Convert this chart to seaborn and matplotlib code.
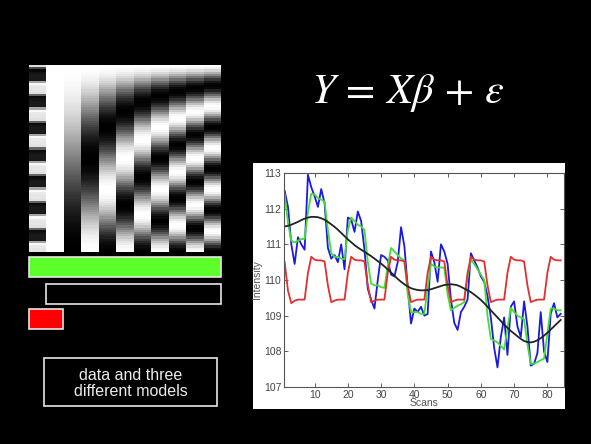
import matplotlib
matplotlib.use('Agg')
import matplotlib.pyplot as plt
from matplotlib.patches import Rectangle
import numpy as np
import pandas as pd
import seaborn as sns

# fMRI time series (84 scans) and the three model fits
scans = list(range(1, 85))
data_blue = [
    112.50, 112.05, 111.00, 110.45, 111.20, 111.00, 110.85, 112.95, 112.60, 112.35,
    112.05, 112.55, 112.15, 110.90, 110.60, 110.70, 110.50, 111.00, 110.30, 111.75,
    111.70, 111.35, 111.92, 111.65, 110.85, 109.75, 109.45, 109.20, 110.00, 110.70,
    110.65, 110.55, 110.15, 110.10, 110.50, 111.48, 110.95, 109.80, 108.78, 109.20,
    109.10, 109.25, 109.00, 109.05, 110.80, 110.50, 109.95, 111.00, 110.80, 110.45,
    109.45, 108.80, 108.60, 109.10, 109.25, 109.45, 110.75, 110.55, 110.35, 110.10,
    109.95, 109.55, 108.95, 108.10, 107.55, 108.40, 108.95, 107.90, 109.25, 109.40,
    108.70, 108.40, 109.40, 108.70, 107.60, 107.65, 107.95, 109.10, 108.00, 107.70,
    109.05, 109.35, 108.95, 109.05,
]
full_model = [
    112.40, 111.60, 111.10, 111.05, 111.10, 111.15, 111.15, 111.90, 112.42, 112.40,
    112.30, 112.25, 112.20, 111.40, 110.75, 110.65, 110.65, 110.60, 110.58, 111.40,
    111.75, 111.65, 111.55, 111.50, 111.40, 110.50, 109.90, 109.85, 109.85, 109.80,
    109.78, 110.40, 110.90, 110.80, 110.70, 110.60, 110.55, 109.60, 109.10, 109.10,
    109.10, 109.05, 109.05, 109.80, 110.45, 110.38, 110.35, 110.35, 110.35, 109.60,
    109.15, 109.22, 109.28, 109.32, 109.38, 110.10, 110.58, 110.45, 110.30, 110.15,
    110.00, 109.00, 108.35, 108.30, 108.25, 108.15, 108.05, 108.65, 109.22, 109.10,
    109.00, 108.95, 108.90, 108.20, 107.65, 107.65, 107.70, 107.75, 107.80, 108.50,
    109.20, 109.20, 109.15, 109.15,
]
boxcar_model = [
    110.50, 109.70, 109.35, 109.42, 109.45, 109.45, 109.45,
    110.20, 110.65, 110.57, 110.55, 110.55, 110.52, 109.85, 109.38, 109.42, 109.45, 109.45, 109.45,
    110.20, 110.65, 110.57, 110.55, 110.55, 110.52, 109.85, 109.38, 109.42, 109.45, 109.45, 109.45,
    110.20, 110.65, 110.57, 110.55, 110.55, 110.52, 109.85, 109.38, 109.42, 109.45, 109.45, 109.45,
    110.20, 110.65, 110.57, 110.55, 110.55, 110.52, 109.85, 109.38, 109.42, 109.45, 109.45, 109.45,
    110.20, 110.65, 110.57, 110.55, 110.55, 110.52, 109.85, 109.38, 109.42, 109.45, 109.45, 109.45,
    110.20, 110.65, 110.57, 110.55, 110.55, 110.52, 109.85, 109.38, 109.42, 109.45, 109.45, 109.45,
    110.20, 110.65, 110.57, 110.55, 110.55,
]
drift_model = [
    111.50, 111.52, 111.55, 111.59, 111.63, 111.68, 111.72, 111.75, 111.77, 111.77,
    111.76, 111.73, 111.69, 111.63, 111.56, 111.49, 111.41, 111.32, 111.23, 111.14,
    111.06, 110.98, 110.91, 110.85, 110.79, 110.73, 110.67, 110.60, 110.53, 110.46,
    110.38, 110.30, 110.21, 110.12, 110.03, 109.95, 109.88, 109.82, 109.77, 109.74,
    109.72, 109.71, 109.71, 109.72, 109.74, 109.77, 109.80, 109.83, 109.86, 109.87,
    109.88, 109.87, 109.85, 109.81, 109.76, 109.71, 109.66, 109.59, 109.52, 109.44,
    109.35, 109.25, 109.15, 109.05, 108.95, 108.85, 108.75, 108.66, 108.57, 108.50,
    108.42, 108.35, 108.29, 108.26, 108.25, 108.27, 108.31, 108.37, 108.44, 108.52,
    108.61, 108.70, 108.79, 108.88,
]
dct_orders = [1, 2, 3, 4, 5, 6, 7, 8, 9]   # cosine drift regressors in the design matrix
y_ticks = [107, 108, 109, 110, 111, 112, 113]
x_ticks = [10, 20, 30, 40, 50, 60, 70, 80]
equation = r'$Y\,=\,X\beta\,+\,\varepsilon$'
caption = 'data and three\ndifferent models'

plt.rcParams['font.family'] = ['Liberation Sans', 'DejaVu Sans']
plt.rcParams['mathtext.fontset'] = 'stix'

W, H = 591, 444
fig = plt.figure(figsize=(W / 100, H / 100), dpi=100, facecolor='black')


def frac(x0, y0, x1, y1):
    # pixel box (top-left origin) -> figure fraction rect
    return [x0 / W, 1 - y1 / H, (x1 - x0) / W, (y1 - y0) / H]


# background layer in pixel coordinates
bg = fig.add_axes([0, 0, 1, 1], zorder=0)
bg.set_xlim(0, W)
bg.set_ylim(H, 0)
bg.axis('off')
bg.add_patch(Rectangle((29, 257), 192, 20, facecolor='#5cff2a', edgecolor='#e6e6e6', lw=1.2))
bg.add_patch(Rectangle((46, 284), 175, 20, facecolor='black', edgecolor='#e6e6e6', lw=1.2))
bg.add_patch(Rectangle((29, 309), 34, 20, facecolor='#ff0000', edgecolor='#e6e6e6', lw=1.2))
bg.add_patch(Rectangle((44, 358), 173, 48, facecolor='black', edgecolor='#e6e6e6', lw=1.2))
bg.text(130.5, 383.5, caption, color='#ececec', fontsize=11.5, ha='center', va='center',
        linespacing=1.12)
bg.text(408, 103, equation, color='white', fontsize=30.5, ha='center', va='baseline')
bg.add_patch(Rectangle((253, 163), 312, 246, facecolor='white', edgecolor='none'))

# design matrix: boxcar regressor, constant, cosine set
n = len(scans)
box = np.array(boxcar_model)
col_box = np.clip(0.1 + 0.8 * (box - 109.45) / (110.55 - 109.45), 0, 1)
t = (np.arange(n) + 0.5) / n
cols = [col_box, np.ones(n)] + [(np.cos(np.pi * k * t) + 1) / 2 for k in dct_orders]
X = pd.DataFrame(np.column_stack(cols))
dm = fig.add_axes(frac(29, 65, 221, 252), zorder=1)
sns.heatmap(X, ax=dm, cmap='gray', vmin=0, vmax=1, cbar=False,
            xticklabels=False, yticklabels=False, linewidths=0, rasterized=True)

# time series plot
df = pd.DataFrame({'scan': scans, 'data': data_blue, 'full': full_model,
                   'boxcar': boxcar_model, 'drift': drift_model})
ax = fig.add_axes(frac(284, 173, 564, 387), zorder=2)
ax.set_facecolor('white')
sns.lineplot(data=df, x='scan', y='data', color='#1a1ae0', lw=1.3, ax=ax)
sns.lineplot(data=df, x='scan', y='full', color='#44dd33', lw=1.3, ax=ax)
sns.lineplot(data=df, x='scan', y='boxcar', color='#e03030', lw=1.3, ax=ax)
sns.lineplot(data=df, x='scan', y='drift', color='#222222', lw=1.3, ax=ax)
ax.set_xlim(0.8, 85)
ax.set_ylim(107, 113)
ax.set_xticks(x_ticks)
ax.set_yticks(y_ticks)
ax.tick_params(direction='in', length=3, width=0.6, top=True, right=True,
               labelsize=7.5, labelcolor='#444444', color='#444444', pad=2)
for s in ax.spines.values():
    s.set_color('#555555')
    s.set_linewidth(0.8)
ax.set_xlabel('Scans', fontsize=7.5, color='#555555', labelpad=-1)
ax.set_ylabel('Intensity', fontsize=7.5, color='#555555', labelpad=1)

fig.savefig('out.png', dpi=100, facecolor='black')
